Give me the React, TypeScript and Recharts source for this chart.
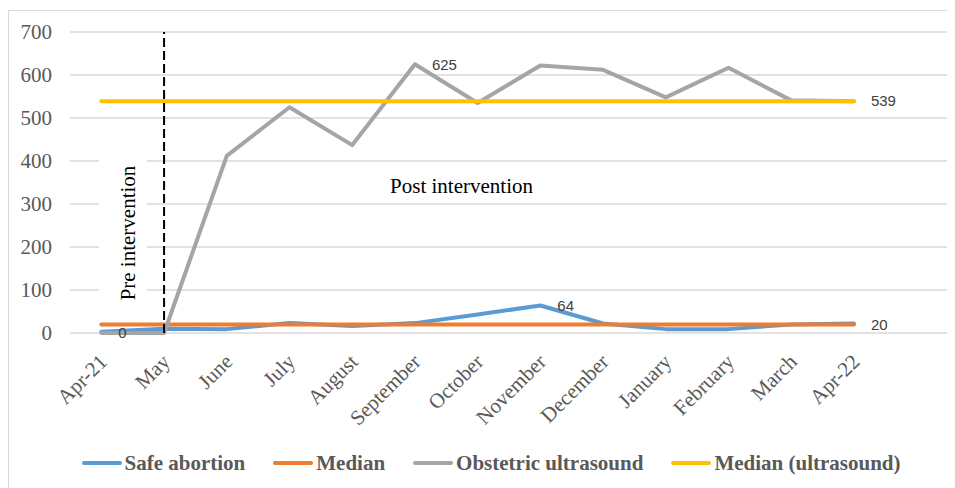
import { CartesianGrid, LabelList, Legend, Line, LineChart, ReferenceLine, XAxis, YAxis } from "recharts";

const months = ["Apr-21", "May", "June", "July", "August", "September", "October", "November", "December", "January", "February", "March", "Apr-22", ""];
const safeAbortion = [3, 10, 9, 23, 16, 23, 43, 64, 22, 9, 9, 20, 22, null];
const median = [20, 20, 20, 20, 20, 20, 20, 20, 20, 20, 20, 20, 20, null];
const obstetricUltrasound = [0, 0, 412, 525, 437, 625, 535, 622, 612, 548, 617, 541, 539, null];
const medianUltrasound = [539, 539, 539, 539, 539, 539, 539, 539, 539, 539, 539, 539, 539, null];
const seriesNames = ["Safe abortion", "Median", "Obstetric ultrasound", "Median (ultrasound)"];
const yTicks = [0, 100, 200, 300, 400, 500, 600, 700];

const data = months.map((month, i) => ({
    month,
    safe: safeAbortion[i],
    median: median[i],
    obstetric: obstetricUltrasound[i],
    medianUs: medianUltrasound[i],
}));

const SERIF = '"Liberation Serif", "Times New Roman", serif';
const SANS = '"Liberation Sans", Arial, sans-serif';

// only put a data label on the points Excel showed one on
const labelsAt = (indices: number[]) => (props: any) => {
    if (!indices.includes(props.index)) return null;
    return (
        <text x={props.x + 17} y={props.y} dy="0.35em" fontFamily={SANS} fontSize={15} fill="#404040">
            {props.value}
        </text>
    );
};

const MonthTick = ({ x, y, payload }: any) => (
    <text x={x + 7} y={y + 22} transform={`rotate(-45, ${x + 7}, ${y + 22})`} textAnchor="end" fontFamily={SERIF} fontSize={21} fill="#595959">
        {payload.value}
    </text>
);

const ValueTick = ({ x, y, payload }: any) => (
    <text x={x} y={y} dy="0.35em" textAnchor="end" fontFamily={SERIF} fontSize={21} fill="#595959">
        {payload.value}
    </text>
);

const PhaseLabels = ({ viewBox }: any) => {
    const { x, y } = viewBox;
    return (
        <g>
            <rect x={x - 65} y={y + 118} width={48} height={150} fill="#fff" />
            <text x={x - 29} y={y + 201} transform={`rotate(-90, ${x - 29}, ${y + 201})`} textAnchor="middle" fontFamily={SERIF} fontSize={21} fill="#000">
                Pre intervention
            </text>
            <text x={x + 226} y={y + 161} fontFamily={SERIF} fontSize={21} fill="#000">
                Post intervention
            </text>
        </g>
    );
};

const LegendRow = ({ payload }: any) => {
    const items = [...(payload || [])].sort((a: any, b: any) => seriesNames.indexOf(a.value) - seriesNames.indexOf(b.value));
    return (
        <div style={{ display: 'flex', justifyContent: 'center', alignItems: 'center', gap: 28, height: 30, paddingLeft: 25 }}>
            {items.map((p: any) => (
                <div key={p.value} style={{ display: 'flex', alignItems: 'center' }}>
                    <span style={{ display: 'inline-block', width: 40, height: 4, borderRadius: 2, background: p.color, marginRight: 3 }} />
                    <span style={{ fontFamily: SERIF, fontWeight: 'bold', fontSize: 21, color: '#595959' }}>{p.value}</span>
                </div>
            ))}
        </div>
    );
};

export default function App() {
    return (
        <div style={{ marginTop: 2, width: 947, height: 478, borderTop: '1px solid #d9d9d9', borderLeft: '1px solid #d9d9d9', boxSizing: 'border-box', background: '#fff' }}>
            <LineChart width={946} height={477} data={data} margin={{ top: 21, right: 7, bottom: 10, left: 0 }}>
                <CartesianGrid vertical={false} stroke="#d9d9d9" strokeWidth={1.3} />
                <XAxis dataKey="month" scale="band" interval={0} height={115} axisLine={false} tickLine={false} tick={<MonthTick />} />
                <YAxis domain={[0, 700]} ticks={yTicks} width={61} axisLine={false} tickLine={false} tickMargin={12} tick={<ValueTick />} />
                <Legend verticalAlign="bottom" wrapperStyle={{ height: 30 }} content={<LegendRow />} />
                <Line dataKey="safe" name={seriesNames[0]} stroke="#5B9BD5" strokeWidth={4} strokeLinecap="round" strokeLinejoin="round" dot={false} isAnimationActive={false}>
                    <LabelList dataKey="safe" content={labelsAt([7])} />
                </Line>
                <Line dataKey="median" name={seriesNames[1]} stroke="#ED7D31" strokeWidth={4} strokeLinecap="round" dot={false} isAnimationActive={false}>
                    <LabelList dataKey="median" content={labelsAt([12])} />
                </Line>
                <Line dataKey="obstetric" name={seriesNames[2]} stroke="#A5A5A5" strokeWidth={4} strokeLinecap="round" strokeLinejoin="round" dot={false} isAnimationActive={false}>
                    <LabelList dataKey="obstetric" content={labelsAt([0, 5])} />
                </Line>
                <Line dataKey="medianUs" name={seriesNames[3]} stroke="#FFC000" strokeWidth={4} strokeLinecap="round" dot={false} isAnimationActive={false}>
                    <LabelList dataKey="medianUs" content={labelsAt([12])} />
                </Line>
                <ReferenceLine x="May" stroke="#000" strokeWidth={2} strokeDasharray="9 4" label={<PhaseLabels />} />
            </LineChart>
        </div>
    );
}
